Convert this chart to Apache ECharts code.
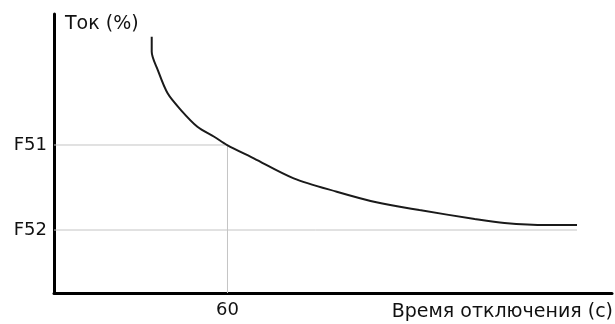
<!DOCTYPE html>
<html>
<head>
<meta charset="utf-8">
<script src="https://cdn.jsdelivr.net/npm/echarts@6/dist/echarts.min.js"></script>
<style>html,body{margin:0;padding:0;background:#fff}#c{width:615px;height:324px}</style>
</head>
<body>
<div id="c"></div>
<script>
// Data
const yTickLabels = ['F52', 'F51'];
const yTickValues = [100, 235];
const xTickLabels = ['60'];
const xTickValues = [60];
const curveTime = [33.8, 33.8, 35.9, 39.3, 43.9, 49.6, 55.4, 59.9, 69.1, 82.9, 97.8, 111.5, 126.4, 145.5, 155.8, 170.6, 180.9];
const curveCurrent = [406.8, 383.0, 354.0, 317.0, 290.5, 264.0, 248.1, 234.9, 213.8, 182.1, 160.8, 144.0, 131.7, 117.5, 111.1, 107.9, 107.9];
const yAxisName = 'Ток (%)';
const xAxisName = 'Время отключения (с)';

const FONT = 'DejaVu Sans';
const chart = echarts.init(document.getElementById('c'), null, {renderer: 'canvas'});
const F51 = yTickValues[1], F52 = yTickValues[0], T60 = xTickValues[0];
const curve = curveTime.map((t, i) => [t, curveCurrent[i]]);
const gridStyle = {color: '#c4c4c4', width: 1};

chart.setOption({
  animation: false,
  grid: {left: 54, right: 0, top: 14, bottom: 31, containLabel: false},
  xAxis: {
    type: 'value', min: 0, max: 193, interval: 5,
    axisLine: {show: true, onZero: false, lineStyle: {color: '#000', width: 3}},
    axisTick: {show: false}, splitLine: {show: false},
    axisLabel: {
      margin: 8, color: '#111', fontFamily: FONT, fontSize: 18,
      formatter: v => { const i = xTickValues.indexOf(v); return i >= 0 ? xTickLabels[i] : ''; }
    }
  },
  yAxis: {
    type: 'value', min: 0, max: 443, interval: 5,
    axisLine: {show: true, onZero: false, lineStyle: {color: '#000', width: 3}},
    axisTick: {show: false}, splitLine: {show: false},
    axisLabel: {
      margin: 7, color: '#111', fontFamily: FONT, fontSize: 18,
      formatter: v => { const i = yTickValues.indexOf(v); return i >= 0 ? yTickLabels[i] : ''; }
    }
  },
  series: [
    {type: 'line', data: [[0, F51], [T60, F51]], symbol: 'none', lineStyle: gridStyle, silent: true, z: 1},
    {type: 'line', data: [[T60, F51], [T60, 0]], symbol: 'none', lineStyle: gridStyle, silent: true, z: 1},
    {type: 'line', data: [[0, F52], [curveTime[curveTime.length - 1], F52]], symbol: 'none', lineStyle: gridStyle, silent: true, z: 1},
    {type: 'line', data: curve, symbol: 'none', smooth: 0.3, lineStyle: {color: '#1a1a1a', width: 2}, z: 3}
  ],
  graphic: [
    {type: 'text', left: 65, top: 15, style: {text: yAxisName, font: '19px "' + FONT + '"', fill: '#111'}},
    {type: 'text', right: 2, top: 303, style: {text: xAxisName, font: '19px "' + FONT + '"', fill: '#111'}}
  ]
});
</script>
</body>
</html>
